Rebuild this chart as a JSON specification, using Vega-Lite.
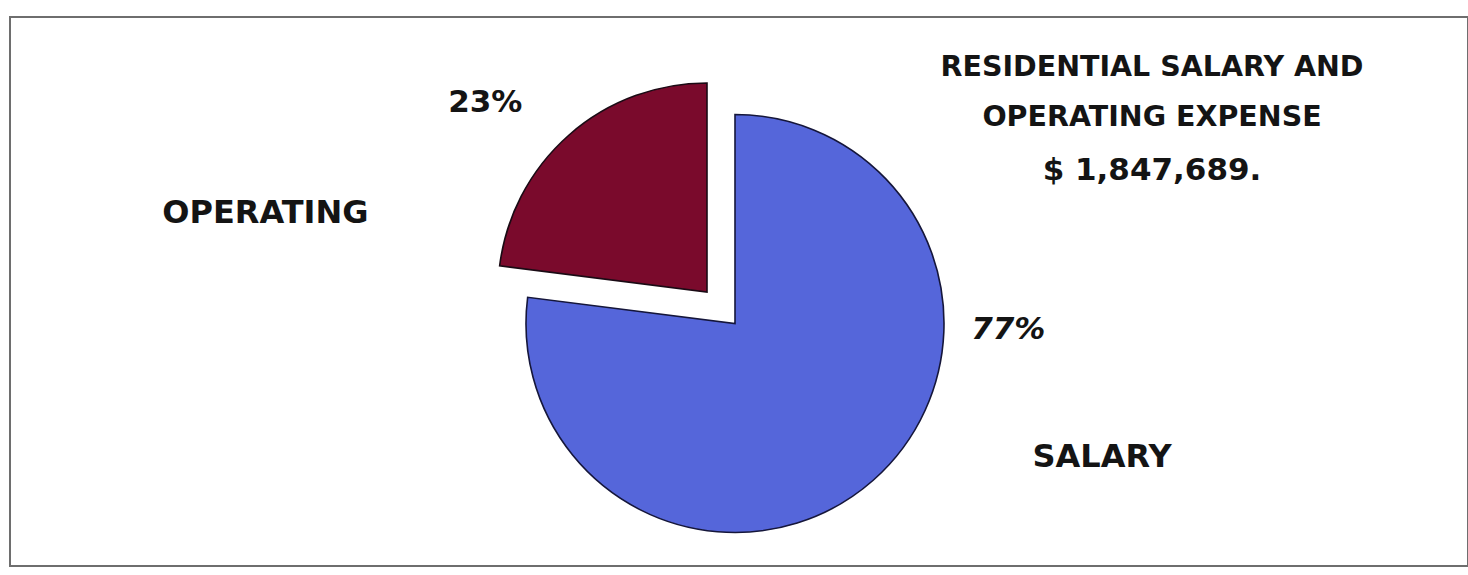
{
  "$schema": "https://vega.github.io/schema/vega-lite/v6.json",
  "width": 1458,
  "height": 549,
  "autosize": {"type": "none"},
  "padding": {"left": 10, "top": 17, "right": 0, "bottom": 9},
  "background": "white",
  "view": {"stroke": "#6e6e6e", "strokeWidth": 2, "fill": "white"},
  "config": {
    "view": {"stroke": "#6e6e6e", "strokeWidth": 2},
    "font": "DejaVu Sans"
  },
  "title": {
    "text": ["RESIDENTIAL SALARY AND", "OPERATING EXPENSE"],
    "subtitle": "$ 1,847,689.",
    "orient": "top",
    "anchor": "middle",
    "align": "center",
    "frame": "group",
    "dx": 413,
    "offset": -169,
    "font": "DejaVu Sans",
    "fontSize": 28.5,
    "fontWeight": "bold",
    "lineHeight": 50,
    "color": "#141414",
    "subtitleFont": "DejaVu Sans",
    "subtitleFontSize": 31,
    "subtitleFontWeight": "bold",
    "subtitleColor": "#141414",
    "subtitlePadding": 25
  },
  "data": {
    "values": [
      {"category": "SALARY", "share": 0.77},
      {"category": "OPERATING", "share": 0.23}
    ]
  },
  "transform": [
    {"stack": "share", "groupby": [], "as": ["start", "end"], "sort": [{"field": "category", "order": "descending"}]}
  ],
  "layer": [
    {
      "transform": [{"filter": "datum.category === 'SALARY'"}],
      "mark": {"type": "arc", "radius": 209, "xOffset": -4, "yOffset": 32, "stroke": "#15163a", "strokeWidth": 1.6},
      "encoding": {
        "theta": {"field": "start", "type": "quantitative", "scale": {"domain": [0, 1]}},
        "theta2": {"field": "end"},
        "color": {"field": "category", "type": "nominal", "scale": {"domain": ["SALARY", "OPERATING"], "range": ["#5566da", "#7a0a2c"]}, "legend": null}
      }
    },
    {
      "transform": [{"filter": "datum.category === 'OPERATING'"}],
      "mark": {"type": "arc", "radius": 209, "xOffset": -32, "yOffset": 0.5, "stroke": "#1a0a14", "strokeWidth": 1.6},
      "encoding": {
        "theta": {"field": "start", "type": "quantitative", "scale": {"domain": [0, 1]}},
        "theta2": {"field": "end"},
        "color": {"field": "category", "type": "nominal", "scale": {"domain": ["SALARY", "OPERATING"], "range": ["#5566da", "#7a0a2c"]}, "legend": null}
      }
    },
    {
      "transform": [{"filter": "datum.category === 'OPERATING'"}],
      "mark": {"type": "text", "theta": -0.9324, "radius": 316, "fontSize": 31, "fontWeight": "bold", "color": "#141414", "align": "center", "baseline": "middle"},
      "encoding": {"text": {"field": "share", "type": "quantitative", "format": ".0%"}}
    },
    {
      "transform": [{"filter": "datum.category === 'OPERATING'"}],
      "mark": {"type": "text", "theta": -1.4068, "radius": 480, "fontSize": 32, "fontWeight": "bold", "color": "#141414", "align": "center", "baseline": "middle"},
      "encoding": {"text": {"field": "category", "type": "nominal"}}
    },
    {
      "transform": [{"filter": "datum.category === 'SALARY'"}],
      "mark": {"type": "text", "theta": 1.7129, "radius": 272, "fontSize": 31, "fontWeight": "bold", "fontStyle": "italic", "color": "#141414", "align": "center", "baseline": "middle"},
      "encoding": {"text": {"field": "share", "type": "quantitative", "format": ".0%"}}
    },
    {
      "transform": [{"filter": "datum.category === 'SALARY'"}],
      "mark": {"type": "text", "theta": 1.9986, "radius": 399, "fontSize": 32, "fontWeight": "bold", "color": "#141414", "align": "center", "baseline": "middle"},
      "encoding": {"text": {"field": "category", "type": "nominal"}}
    }
  ]
}
